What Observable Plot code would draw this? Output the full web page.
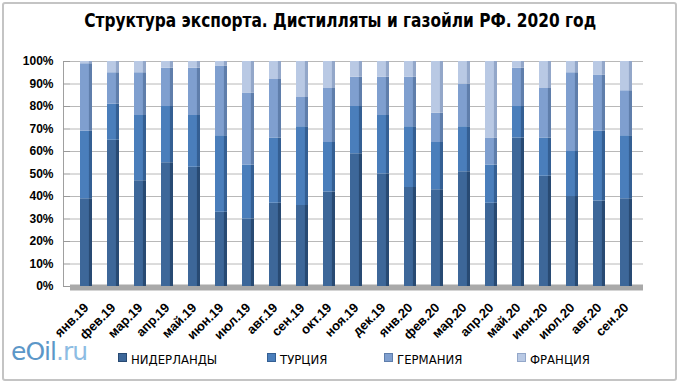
<!DOCTYPE html>
<html><head><meta charset="utf-8">
<script src="https://cdn.jsdelivr.net/npm/d3@7"></script>
<script src="https://cdn.jsdelivr.net/npm/@observablehq/plot@0.6"></script>
<style>
html,body{margin:0;padding:0;background:#fff;}
#wrap{position:relative;width:680px;height:384px;overflow:hidden;font-family:"Liberation Sans Narrow","DejaVu Sans Condensed","Arial Narrow",sans-serif;}
#frame{position:absolute;left:2px;top:2px;width:671px;height:375px;border:2px solid #c4c4c4;border-radius:3px;}
#title{position:absolute;left:0;top:8px;width:680px;text-align:center;font-weight:bold;font-size:20px;color:#000;transform:scaleX(0.855);transform-origin:341px 0;white-space:nowrap;}
#chart{position:absolute;left:0;top:0;}
#legend{position:absolute;top:352px;left:0;width:680px;height:20px;font-size:13px;color:#000;}
.li{position:absolute;top:0;white-space:nowrap;}
.sw{display:inline-block;width:7px;height:7px;margin-right:4px;vertical-align:2px;}
#logo{position:absolute;left:11px;top:337px;font-family:"DejaVu Sans","Liberation Sans",sans-serif;font-size:25px;letter-spacing:-1px;}
</style></head>
<body><div id="wrap">
<div id="frame"></div>
<div id="title">Структура экспорта. Дистилляты и газойли РФ. 2020 год</div>
<div id="chart"></div>
<div id="logo"><span style="color:#5b97c8">eOil</span><span style="color:#8dbce3">.ru</span></div>
<div id="legend"></div>
</div>
<script>
const months = ["янв.19","фев.19","мар.19","апр.19","май.19","июн.19","июл.19","авг.19","сен.19","окт.19","ноя.19","дек.19","янв.20","фев.20","мар.20","апр.20","май.20","июн.20","июл.20","авг.20","сен.20"];
const seriesNames = ["НИДЕРЛАНДЫ","ТУРЦИЯ","ГЕРМАНИЯ","ФРАНЦИЯ"];
const netherlands = [39,65,47,55,53,33,30,37,36,42,59,50,44,43,51,37,66,49,40,38,39];
const turkey      = [30,16,29,25,23,34,24,29,35,22,21,26,27,21,20,17,14,17,20,31,28];
const germany     = [30,14,19,17,21,31,32,26,13,24,13,17,22,13,19,12,17,22,35,25,20];
const france      = [1,5,5,3,3,2,14,8,16,12,7,7,7,23,10,34,3,12,5,6,13];
const yTicks = [0,10,20,30,40,50,60,70,80,90,100];

const colors = ["#3d6799","#4a7ebb","#7f9fcf","#b9c9e4"];
const edges  = ["#284a73","#345f93","#5f7eab","#93a7c9"];

const seriesVals = [netherlands, turkey, germany, france];
const data = [];
seriesNames.forEach((s, si) => months.forEach((m, i) => data.push({month: m, series: s, value: seriesVals[si][i]})));

const axisFont = `"Liberation Sans",Arial,sans-serif`;

const chart = Plot.plot({
  width: 680, height: 352,
  marginLeft: 70, marginRight: 37, marginTop: 61, marginBottom: 66,
  style: {fontFamily: axisFont, fontSize: "12px", fontWeight: "bold", color: "#000", background: "transparent"},
  x: {domain: months, paddingInner: 0.55, paddingOuter: 0.29, label: null},
  y: {domain: [0, 100], label: null},
  color: {domain: seriesNames, range: seriesNames.map((_, i) => `url(#g${i})`)},
  marks: [
    Plot.ruleY(yTicks, {stroke: "#b8b8b8", strokeWidth: 1}),
    Plot.frame({anchor: "left", stroke: "#a0a0a0", dx: -7}),
    Plot.ruleY([0], {stroke: "#a9a9a9", strokeWidth: 6, dy: 1}),
    Plot.barY(data, {x: "month", y: "value", fill: "series", order: seriesNames}),
    Plot.axisY({ticks: yTicks, tickFormat: d => d + "%", tickSize: 7, tickPadding: 10, stroke: "#999", fontWeight: "bold", fontSize: 12}),
    Plot.axisX({tickRotate: -45, tickSize: 0, tickPadding: 19, dx: 0, fontWeight: "bold", fontSize: 13})
  ]
});
document.getElementById("chart").appendChild(chart);

// gradients for cylinder-like shading
const ns = "http://www.w3.org/2000/svg";
const defs = document.createElementNS(ns, "defs");
colors.forEach((c, i) => {
  const g = document.createElementNS(ns, "linearGradient");
  g.setAttribute("id", "g" + i);
  g.setAttribute("x1", "0"); g.setAttribute("x2", "1"); g.setAttribute("y1", "0"); g.setAttribute("y2", "0");
  [[0, c], [0.7, c], [0.78, edges[i]], [1, edges[i]]].forEach(([o, col]) => {
    const st = document.createElementNS(ns, "stop");
    st.setAttribute("offset", o); st.setAttribute("stop-color", col);
    g.appendChild(st);
  });
  defs.appendChild(g);
});
chart.insertBefore(defs, chart.firstChild);

// legend
const lg = document.getElementById("legend");
const lx = [118, 267, 384, 517];
seriesNames.forEach((s, i) => {
  const d = document.createElement("div");
  d.className = "li"; d.style.left = lx[i] + "px";
  d.innerHTML = `<span class="sw" style="background:${colors[i]};border:1px solid ${edges[i]}"></span>${s}`;
  lg.appendChild(d);
});
</script>
</body></html>
